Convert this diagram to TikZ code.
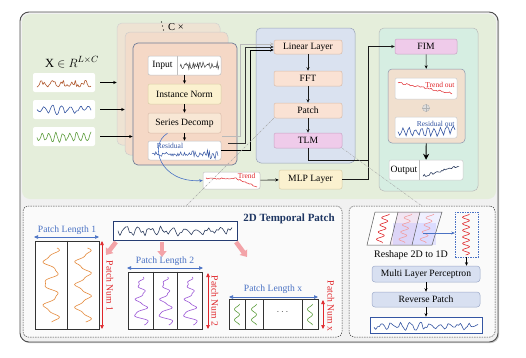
\documentclass[tikz,border=0pt]{standalone}
\usepackage{fontspec}
\setmainfont{Liberation Serif}
\usetikzlibrary{arrows.meta,shadows}
\definecolor{bggreen}{HTML}{E5EEDB}
\definecolor{outerfill}{HTML}{F1F1F1}
\definecolor{stackA}{HTML}{EEE3D3}
\definecolor{stackB}{HTML}{F2DCCB}
\definecolor{stackC}{HTML}{F5D8C6}
\definecolor{frameblue}{HTML}{6E7C97}
\definecolor{blueblock}{HTML}{DAE2F0}
\definecolor{greenblock}{HTML}{D6EEE2}
\definecolor{peach}{HTML}{FAE2D4}
\definecolor{peachline}{HTML}{D9BBA9}
\definecolor{pinkbox}{HTML}{EFCBEA}
\definecolor{pinkline}{HTML}{C9A3C4}
\definecolor{yellowbox}{HTML}{FBF1CF}
\definecolor{yellowline}{HTML}{D9CDA6}
\definecolor{beige}{HTML}{F8E7D5}
\definecolor{innerbeige}{HTML}{F1E0CF}
\definecolor{lavender}{HTML}{D8E0F1}
\definecolor{lavline}{HTML}{9DAACA}
\definecolor{titleblue}{HTML}{1F3763}
\definecolor{lblblue}{HTML}{4A72C4}
\definecolor{wblue}{HTML}{3556A3}
\definecolor{wnavy}{HTML}{2E3E60}
\definecolor{wred}{HTML}{E0262A}
\definecolor{worange}{HTML}{E58A3C}
\definecolor{wpurple}{HTML}{9B55D6}
\definecolor{wgreen}{HTML}{5E9E3E}
\definecolor{wbrown}{HTML}{B0582E}
\definecolor{arrowpink}{HTML}{F3A3A8}
\begin{document}
\begin{tikzpicture}[x=1pt,y=-1pt,font=\fontsize{9.6}{10}\selectfont,
  blk/.style={draw, rounded corners=2pt, inner sep=0pt, line width=0.5pt},
  arr/.style={-{Stealth[length=3.5pt,width=3pt]}, line width=0.6pt},
  dimarr/.style={{Triangle[length=4pt,width=3.5pt]}-{Triangle[length=4pt,width=3.5pt]}, line width=0.7pt},
  pinkarr/.style={-{Triangle[length=6pt,width=9pt]}, line width=4.5pt, arrowpink},
  guide/.style={gray!70, line width=0.4pt, dash pattern=on 2pt off 1pt on 0.5pt off 1pt},
  wv/.style={line width=0.6pt, line join=round},
  small/.style={font=\fontsize{7.5}{8}\selectfont},
  dashbox/.style={draw=gray!50!black, dash pattern=on 1.5pt off 1pt, fill=gray!4, rounded corners=5pt, inner sep=0pt, line width=0.5pt},
]
\useasboundingbox (0,0) rectangle (526,357);
\pgfmathsetseed{7}

% ---------- outer frame ----------
\node[draw=gray!60!black, line width=0.9pt, fill=outerfill, rounded corners=9pt, minimum width=478, minimum height=330, inner sep=0pt, drop shadow={shadow xshift=1.2pt, shadow yshift=-1.2pt, opacity=0.45}] (outer) at (259,177) {};
\node[fill=bggreen, rounded corners=8pt, minimum width=474, minimum height=185, inner sep=0pt] (greenarea) at (259,106.5) {};

% ---------- input series ----------
\node (xlbl) at (72,62) {\fontsize{12.5}{12}\selectfont X $\in R^{L\times C}$};
\node[fill=white, rounded corners=2pt, minimum width=62, minimum height=19, inner sep=0] (s1) at (64,82.5) {};
\node[fill=white, rounded corners=2pt, minimum width=62, minimum height=19, inner sep=0] (s2) at (64,109.5) {};
\node[fill=white, rounded corners=2pt, minimum width=62, minimum height=19, inner sep=0] (s3) at (64,136.5) {};
\draw[wv, wbrown] plot[domain=37:91, samples=46, smooth] (\x,{87 - 7*abs(sin(17*(\x-37)))*(0.55+0.45*rand)});
\draw[wv, wblue] plot[domain=37:91, samples=34, smooth] (\x,{110 + 3*sin(40*(\x-37)) + 2*rand - (\x>80)*4*sin(18*(\x-80))});
\draw[wv, wgreen] plot[domain=37:91, samples=44, smooth] (\x,{137 + 4*sin(52*(\x-37)) + 1.5*rand});

% ---------- stacked encoder ----------
\node[blk, draw=gray!35, fill=stackA, minimum width=103, minimum height=122, rounded corners=5pt] (stack3) at (168.5,84) {};
\node[blk, draw=gray!40, fill=stackB, minimum width=103, minimum height=123, rounded corners=5pt] (stack2) at (176.5,93.5) {};
\node[blk, draw=frameblue, line width=0.7pt, fill=stackC, minimum width=104, minimum height=122, rounded corners=5pt] (stack1) at (185,104) {};
\node (ctimes) at (176,27.5) {\fontsize{10.5}{10}\selectfont C ×};
\fill[black] (161.5,22) circle (0.7) (162.5,26) circle (0.7) (163.5,30) circle (0.7);

\draw[arr] ([xshift=5pt]s1.east) -- (s1.east -| stack3.west);
\draw[arr] ([xshift=5pt]s2.east) -- (s2.east -| stack2.west);
\draw[arr] ([xshift=5pt]s3.east) -- (s3.east -| stack1.west);

\node[blk, draw=gray!50, fill=white, minimum width=73, minimum height=19] (input) at (184.5,65.5) {};
\node (inputlbl) at (162.5,65.5) {Input};
\draw[gray!50] ([xshift=-7.5pt]input.north) -- ([xshift=-7.5pt]input.south);
\draw[gray!30!black, line width=0.4pt] plot[domain=180:219, samples=45] (\x, {65.5 + 4.5*rand*(0.4+0.6*abs(sin(11*(\x-180))))});
\node[blk, draw=yellowline, fill=yellowbox, minimum width=73, minimum height=20] (norm) at (184.5,94) {Instance Norm};
\node[blk, draw=peachline, fill=beige, minimum width=73, minimum height=20] (decomp) at (184.5,123) {Series Decomp};
\node[blk, draw=gray!50, fill=white, minimum width=73, minimum height=19] (resid) at (184.5,150.5) {};
\node[small, text=wblue] (residlbl) at (170,145.5) {Residual};
\draw[wblue, line width=0.5pt] plot[domain=152:218, samples=70] (\x, {154 + (2.2 + 3*(\x>206) + 1.5*(\x>192)*(\x<198))*rand});

\draw[arr] (input) -- (norm);
\draw[arr] (norm) -- (decomp);
\draw[arr] (decomp) -- (resid);

% ---------- blue block ----------
\node[blk, draw=frameblue!70, fill=blueblock, rounded corners=5pt, minimum width=99, minimum height=135] (blueblk) at (305.5,95.5) {};
\node[blk, draw=peachline, fill=peach, minimum width=68, minimum height=14] (linear) at (308,47) {Linear Layer};
\node[blk, draw=peachline, fill=peach, minimum width=68, minimum height=15] (fft) at (308,78.5) {FFT};
\node[blk, draw=peachline, fill=peach, minimum width=68, minimum height=15] (patch) at (308,110.5) {Patch};
\node[blk, draw=pinkline, fill=pinkbox, minimum width=68, minimum height=15] (tlm) at (308,140.5) {TLM};
\draw[arr, gray!20!black] (linear) -- (fft);
\draw[arr, gray!20!black] (fft) -- (patch);
\draw[arr, gray!20!black] (patch) -- (tlm);

% encoder outputs to Linear Layer
\coordinate (o1) at (222,136);
\coordinate (o2) at (228,143);
\draw[arr, gray!55] (o1) -- ++(18,0) |- ([yshift=3pt]linear.west);
\draw[arr, gray!40!black] (o2) -- ++(17,0) |- (linear.west);
\draw[arr, black] (resid.east) -- ++(29.5,0) |- ([yshift=-3pt]linear.west);

% ---------- trend & MLP ----------
\node[blk, draw=gray!50, fill=white, minimum width=57, minimum height=17] (trend) at (231.5,180.5) {};
\node[small, text=wred, anchor=east] (trendlbl) at (259,176) {Trend};
\draw[wv, wred, line width=0.5pt] plot[domain=206:257, samples=40] (\x, {178.5 + 0.8*rand + (\x>236)*(\x-236)*0.4});
\node[blk, draw=yellowline, fill=yellowbox, minimum width=63, minimum height=19] (mlp) at (310.5,179.5) {MLP Layer};
\draw[arr] (trend) -- (mlp);
\draw[-{Stealth[length=3.5pt,width=3pt]}, lblblue, line width=0.6pt] ([xshift=-17pt]decomp.south) .. controls (148,145) and (160,183) .. (trend.west);

% ---------- green block ----------
\node[blk, draw=gray!55, fill=greenblock, rounded corners=5pt, minimum width=99, minimum height=163] (greenblk) at (428.5,109.5) {};
\node[blk, draw=pinkline, fill=pinkbox, minimum width=62, minimum height=15] (fim) at (426,46.5) {FIM};
\node[blk, draw=frameblue!80, fill=innerbeige, rounded corners=4pt, minimum width=77, minimum height=74] (sum) at (426.5,106) {};
\node[blk, draw=gray!40, fill=white, minimum width=62, minimum height=21] (trendout) at (426,88.5) {};
\node[small, text=wred, anchor=north east] (trendoutlbl) at (458,78.5) {Trend out};
\draw[wred, line width=0.5pt] plot[domain=398:452, samples=45] (\x, {82.5 + 0.9*rand + (\x-398)*0.2});
\node[circle, draw=gray!60, fill=gray!25, inner sep=0pt, minimum size=7] (plus) at (426,108) {};
\draw[gray!60, line width=0.4pt] (plus.north) -- (plus.south) (plus.west) -- (plus.east);
\node[blk, draw=gray!40, fill=white, minimum width=62, minimum height=21] (residout) at (426,127.5) {};
\node[small, text=wblue, anchor=north east] (residoutlbl) at (458,117.5) {Residual out};
\draw[wblue, line width=0.6pt] plot[domain=398:455, samples=36] (\x, {132 + 3.5*sin(57*(\x-398)) + 1.5*rand - (\x>445)*3});
\node[blk, draw=gray!40, fill=white, minimum width=74, minimum height=20] (output) at (426,170) {};
\node (outputlbl) at (404,170) {Output};
\draw[gray!50] ([xshift=-7pt]output.north) -- ([xshift=-7pt]output.south);
\draw[wnavy, line width=0.6pt] plot[domain=423:459, samples=30] (\x, {176 - (\x-423)*0.28 + 1.2*rand});
\draw[arr] (fim) -- (sum);
\draw[-{Stealth[length=6pt,width=6pt]}, line width=0.9pt] (sum) -- (output);

\coordinate (junc) at (368,160);
\draw[arr, line width=0.7pt, gray!20!black] (tlm.south) |- (junc) |- (fim.west);
\draw[line width=0.7pt, gray!20!black] (mlp.east) -| (junc);

% ---------- bottom panels ----------
\node[dashbox, minimum width=319, minimum height=131] (tpbox) at (182.5,271.5) {};
\node[dashbox, minimum width=146, minimum height=131] (rsbox) at (422,271.5) {};

\coordinate (g1) at (186,206);
\coordinate (g2) at (422,206);
\draw[guide] (patch.south west) -- (g1);
\draw[guide] (tlm.south east) -- (g2);

% 2D temporal patch
\node[font=\bfseries\fontsize{11}{12}\selectfont, text=titleblue] (tptitle) at (289,219) {2D Temporal Patch};
\node[draw=wblue!70!black, line width=0.8pt, fill=white, minimum width=124, minimum height=19, inner sep=0pt] (longseq) at (175,230.5) {};
\draw[wnavy, line width=0.6pt] plot[domain=118:232, samples=60, smooth] (\x, {231 + 3*sin(31*(\x-118)) + 2.5*rand});

\coordinate (pa1s) at (116,242); \coordinate (pa1e) at (106,255);
\coordinate (pa2s) at (162,242); \coordinate (pa2e) at (162,257);
\coordinate (pa3s) at (236,242); \coordinate (pa3e) at (247,257);
\draw[pinkarr] (pa1s) -- (pa1e);
\draw[pinkarr] (pa2s) -- (pa2e);
\draw[pinkarr] (pa3s) -- (pa3e);

% patch 1
\node[text=lblblue] (pl1) at (67,230) {Patch Length 1};
\coordinate (pl1a) at (34,237); \coordinate (pl1b) at (99,237);
\draw[dimarr, lblblue, line width=0.6pt] (pl1a) -- (pl1b);
\node[draw=black!80, fill=white, line width=0.7pt, minimum width=64, minimum height=88, inner sep=0pt] (p1) at (67,285) {};
\draw[black!80, line width=0.7pt] (p1.north) -- (p1.south);
\draw[worange, line width=0.6pt] plot[domain=248:322, samples=70, smooth] ({51 + 7*sin(16*(\x-248)+60) + 1.5*sin(43*(\x-248))}, \x);
\draw[worange, line width=0.6pt] plot[domain=248:322, samples=70, smooth] ({83 + 7*sin(16*(\x-248)+40) + 1.5*sin(47*(\x-248))}, \x);
\coordinate (pn1a) at (102,241); \coordinate (pn1b) at (102,329);
\draw[dimarr, wred] (pn1a) -- (pn1b);
\node[rotate=-90, text=wred] (pn1) at (110,286) {Patch Num 1};

% patch 2
\node[text=lblblue] (pl2) at (165,261) {Patch Length 2};
\coordinate (pl2a) at (127,268); \coordinate (pl2b) at (203,268);
\draw[dimarr, lblblue, line width=0.6pt] (pl2a) -- (pl2b);
\node[draw=black!80, fill=white, line width=0.7pt, minimum width=74, minimum height=57, inner sep=0pt] (p2) at (165,300.5) {};
\draw[black!80, line width=0.7pt] ([xshift=-12pt]p2.north) -- ([xshift=-12pt]p2.south) ([xshift=12pt]p2.north) -- ([xshift=12pt]p2.south);
\foreach \cx in {141,165.5,190}{
  \draw[wpurple, line width=0.6pt] plot[domain=277:325, samples=60, smooth] ({\cx + (2+6*(\x-277)/48)*sin(24*(\x-277)+90) + 1.2*sin(61*(\x-277))}, \x);
}
\coordinate (pn2a) at (208,273); \coordinate (pn2b) at (208,329);
\draw[dimarr, wred] (pn2a) -- (pn2b);
\node[rotate=-90, text=wred] (pn2) at (215,301) {Patch Num 2};

% patch x
\node[text=lblblue] (plx) at (273,289) {Patch Length x};
\coordinate (plxa) at (229,297); \coordinate (plxb) at (318,297);
\draw[dimarr, lblblue, line width=0.6pt] (plxa) -- (plxb);
\node[draw=black!80, fill=white, line width=0.7pt, minimum width=89, minimum height=30, inner sep=0pt] (px) at (273.5,314) {};
\draw[black!80, line width=0.7pt] (245,299) -- (245,329) (263,299) -- (263,329) (302,299) -- (302,329);
\node[text=gray!60!black] (pxdots) at (282.5,312) {$\cdots$};
\foreach \cx in {237,254,310}{
  \draw[wgreen, line width=0.6pt] plot[domain=304:325, samples=30, smooth] ({\cx + 2.5*sin(34*(\x-304)+90)}, \x);
}
\coordinate (pnxa) at (323,300); \coordinate (pnxb) at (323,329);
\draw[dimarr, wred] (pnxa) -- (pnxb);
\node[rotate=-90, text=wred] (pnx) at (331,306) {Patch Num x};

% ---------- reshape / MLP panel ----------
\coordinate (pgA) at (375,212); \coordinate (pgB) at (442,212);
\coordinate (pgC) at (432,245); \coordinate (pgD) at (367,245);
\fill[white] (pgA) -- (pgB) -- (pgC) -- (pgD) -- cycle;
\fill[fill=violet!10] (398,212) -- (420,212) -- (412,245) -- (390,245) -- cycle;
\fill[fill=blue!6] (420,212) -- (442,212) -- (432,245) -- (412,245) -- cycle;
\fill[blue!25, opacity=0.4] (393,223) rectangle (436,245);
\foreach \ct/\cb/\col in {386.5/378.5/wred, 409/401/wred!45, 431/422/wred!45}{
  \draw[\col, line width=0.6pt] plot[domain=214:243, samples=45] ({\ct + (\cb-\ct)*(\x-212)/33 + 3.5*sin(50*(\x-214)+90)}, \x);
}
\draw[gray!70!black, line width=0.5pt] (pgA) -- (pgB) -- (pgC) -- (pgD) -- cycle;
\draw[gray!70!black, line width=0.5pt] (398,212) -- (390,245) (420,212) -- (412,245);
\coordinate (rsa) at (423,233);
\node[draw=lblblue, dash pattern=on 1.5pt off 1pt, minimum width=23, minimum height=45, inner sep=0pt] (flat) at (466.5,234.5) {};
\draw[arr, lblblue] (rsa) -- (flat.west |- rsa);
\draw[wred, line width=0.6pt] plot[domain=214:255, samples=60] ({466 + 3.5*sin(55*(\x-214)+90)}, \x);
\node[font=\fontsize{10}{11}\selectfont] (reshape) at (411,255) {Reshape 2D to 1D};
\node[blk, draw=lavline, fill=lavender, rounded corners=3pt, minimum width=108, minimum height=16] (mlpp) at (426,274) {Multi Layer Perceptron};
\node[blk, draw=lavline, fill=lavender, rounded corners=3pt, minimum width=108, minimum height=15] (revp) at (426,299.5) {Reverse Patch};
\node[draw=wblue, line width=0.7pt, fill=white, minimum width=112, minimum height=16, inner sep=0pt] (outseq) at (426,325) {};
\draw[wblue, line width=0.6pt] plot[domain=374:478, samples=60, smooth] (\x, {326 + 2.5*sin(37*(\x-374)) + 2*rand});
\draw[arr] (flat.south) -- (flat.south |- mlpp.north);
\draw[arr] (mlpp) -- (revp);
\draw[arr] (revp) -- (outseq);
\end{tikzpicture}
\end{document}
